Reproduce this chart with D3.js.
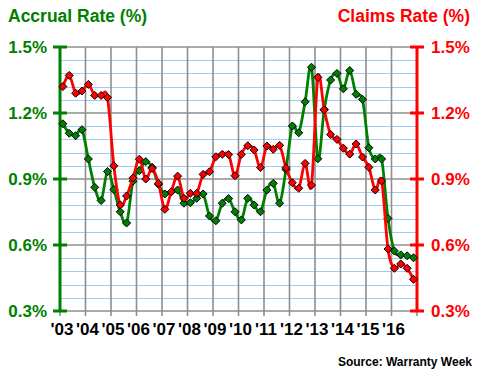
<!DOCTYPE html>
<html>
<head>
<meta charset="utf-8">
<script src="https://cdn.jsdelivr.net/npm/d3@7"></script>
<style>
body { margin: 0; background: #fff; }
text { font-family: "Liberation Sans", Arial, sans-serif; font-weight: bold; }
</style>
</head>
<body>
<script>
/* quarterly data, 2003 Q1 .. 2016 Q4 */
var years = ["'03","'04","'05","'06","'07","'08","'09","'10","'11","'12","'13","'14","'15","'16"];
var startYear = 2003;
var accrual = [1.151, 1.108, 1.097, 1.124, 0.991, 0.862, 0.802, 0.934, 0.852, 0.751,
	0.700, 0.890, 0.938, 0.979, 0.953, 0.876, 0.832, 0.841, 0.850, 0.790,
	0.792, 0.812, 0.832, 0.732, 0.710, 0.790, 0.811, 0.751, 0.714, 0.812,
	0.782, 0.751, 0.850, 0.880, 0.790, 0.943, 1.141, 1.110, 1.251, 1.408,
	0.992, 1.216, 1.350, 1.380, 1.310, 1.393, 1.285, 1.262, 1.042, 0.991,
	0.991, 0.721, 0.573, 0.555, 0.551, 0.542];
var claims = [1.320, 1.371, 1.290, 1.300, 1.330, 1.280, 1.280, 1.270, 0.960, 0.782,
	0.823, 0.905, 0.990, 0.900, 0.948, 0.880, 0.762, 0.842, 0.913, 0.812,
	0.835, 0.835, 0.921, 0.933, 1.001, 1.012, 1.011, 0.915, 1.012, 1.051,
	1.032, 0.952, 1.050, 1.035, 1.053, 0.951, 0.883, 0.858, 0.971, 0.872,
	1.362, 1.214, 1.102, 1.080, 1.040, 1.013, 1.059, 1.000, 0.953, 0.850,
	0.891, 0.582, 0.494, 0.514, 0.494, 0.444];
var yTicks = [0.3, 0.6, 0.9, 1.2, 1.5];
var minorStep = 0.06;

var green = "#008000", red = "#ff0000", grid = "#8f8f8f", blue = "#9fcbf5";
var W = 480, H = 370, pLeft = 60, pRight = 417, pTop = 47, pBottom = 311;

var svg = d3.select("body").append("svg")
	.attr("width", W)
	.attr("height", H);

var x = d3.scaleLinear().domain([startYear, startYear + years.length]).range([pLeft, pRight]);
var yL = d3.scaleLinear().domain([0.3, 1.5]).range([pBottom, pTop]);
var yR = d3.scaleLinear().domain([0.3, 1.5]).range([pBottom, pTop]);

function qx(i){ return x(startYear + (i + 0.45)/4); }

// light blue minor lines
var minor = d3.range(0.3 + minorStep, 1.5 - 0.001, minorStep)
	.filter(function(v){ return Math.abs(v/0.3 - Math.round(v/0.3)) > 0.01; });
svg.selectAll(".minor").data(minor).enter().append("line")
	.attr("x1", pLeft).attr("x2", pRight)
	.attr("y1", function(d){ return Math.round(yL(d)) + 0.5; })
	.attr("y2", function(d){ return Math.round(yL(d)) + 0.5; })
	.attr("stroke", blue).attr("stroke-width", 1);

// gray major lines
svg.selectAll(".major").data(yTicks).enter().append("line")
	.attr("x1", pLeft).attr("x2", pRight)
	.attr("y1", function(d){ return yL(d); })
	.attr("y2", function(d){ return yL(d); })
	.attr("stroke", grid).attr("stroke-width", 1.6);

var xTicks = d3.range(startYear, startYear + years.length + 1);
svg.selectAll(".vgrid").data(xTicks).enter().append("line")
	.attr("x1", function(d){ return x(d); })
	.attr("x2", function(d){ return x(d); })
	.attr("y1", pTop)
	.attr("y2", pBottom + 5)
	.attr("stroke", grid).attr("stroke-width", 1.6);

svg.selectAll(".xlab").data(years).enter().append("text")
	.attr("x", function(d, i){ return x(startYear + i) + 2; })
	.attr("y", 335)
	.attr("text-anchor", "middle")
	.style("font-size", "17px")
	.attr("fill", "#000")
	.text(function(d){ return d; });

// axes
svg.append("line")
	.attr("x1", pLeft).attr("x2", pLeft).attr("y1", pTop).attr("y2", pBottom + 1)
	.attr("stroke", green).attr("stroke-width", 3);
svg.selectAll(".ltick").data(yTicks).enter().append("line")
	.attr("x1", pLeft - 7).attr("x2", pLeft + 7)
	.attr("y1", function(d){ return yL(d); })
	.attr("y2", function(d){ return yL(d); })
	.attr("stroke", green).attr("stroke-width", 3);
svg.selectAll(".llab").data(yTicks).enter().append("text")
	.attr("x", 47)
	.attr("y", function(d){ return yL(d); })
	.attr("dy", "0.36em")
	.attr("text-anchor", "end")
	.style("font-size", "17px")
	.attr("fill", green)
	.text(function(d){ return d3.format(".1f")(d) + "%"; });

svg.append("line")
	.attr("x1", pRight).attr("x2", pRight).attr("y1", pTop).attr("y2", pBottom + 1)
	.attr("stroke", red).attr("stroke-width", 3);
svg.selectAll(".rtick").data(yTicks).enter().append("line")
	.attr("x1", pRight - 7).attr("x2", pRight + 7)
	.attr("y1", function(d){ return yR(d); })
	.attr("y2", function(d){ return yR(d); })
	.attr("stroke", red).attr("stroke-width", 3);
svg.selectAll(".rlab").data(yTicks).enter().append("text")
	.attr("x", 431)
	.attr("y", function(d){ return yR(d); })
	.attr("dy", "0.36em")
	.attr("text-anchor", "start")
	.style("font-size", "17px")
	.attr("fill", red)
	.text(function(d){ return d3.format(".1f")(d) + "%"; });

// series
function drawSeries(values, y, color){
	var line = d3.line()
		.x(function(d, i){ return qx(i); })
		.y(function(d){ return y(d); })
		.curve(d3.curveCardinal);
	svg.append("path")
		.attr("d", line(values))
		.attr("fill", "none")
		.attr("stroke", color)
		.attr("stroke-width", 2.8)
		.attr("stroke-linejoin", "round");
	svg.append("g").selectAll("path").data(values).enter().append("path")
		.attr("d", "M0,-4L4,0L0,4L-4,0Z")
		.attr("transform", function(d, i){ return "translate(" + qx(i) + "," + y(d) + ")"; })
		.attr("fill", color)
		.attr("stroke", "#000")
		.attr("stroke-width", 1);
}
drawSeries(accrual, yL, green);
drawSeries(claims, yR, red);

// titles
svg.append("text")
	.attr("x", 8).attr("y", 22)
	.style("font-size", "17.5px")
	.attr("fill", green)
	.text("Accrual Rate (%)");
svg.append("text")
	.attr("x", 470).attr("y", 22)
	.attr("text-anchor", "end")
	.style("font-size", "17.5px")
	.attr("fill", red)
	.text("Claims Rate (%)");
svg.append("text")
	.attr("x", 472).attr("y", 366)
	.attr("text-anchor", "end")
	.style("font-size", "12px")
	.attr("fill", "#000")
	.text("Source: Warranty Week");
</script>
</body>
</html>
